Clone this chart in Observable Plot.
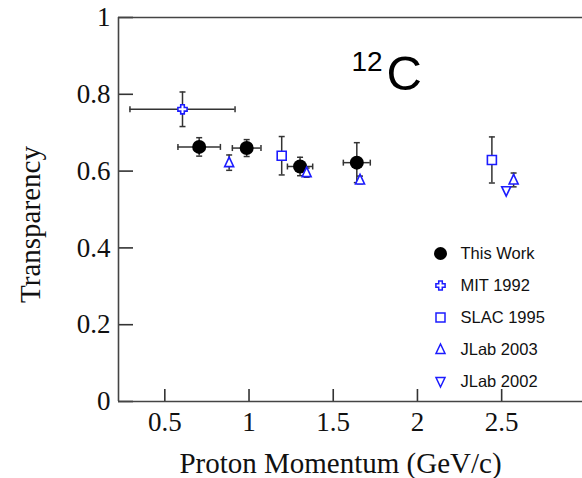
<!DOCTYPE html>
<html><head><meta charset="utf-8">
<script src="https://cdn.jsdelivr.net/npm/d3@7"></script>
<script src="https://cdn.jsdelivr.net/npm/@observablehq/plot@0.6"></script>
<style>body{margin:0;background:#fff}</style>
</head><body><div id="chart"></div>
<script>
// ---- data ----
const xTicks = [0.5, 1, 1.5, 2, 2.5];
const yTicks = [0, 0.2, 0.4, 0.6, 0.8, 1];

const thisWorkP    = [0.704, 0.986, 1.303, 1.640];
const thisWorkT    = [0.663, 0.660, 0.612, 0.622];
const thisWorkPErr = [0.126, 0.085, 0.075, 0.080];
const thisWorkTErr = [0.024, 0.022, 0.024, 0.052];

const mitP = [0.605], mitT = [0.761], mitPErr = [0.312], mitTErr = [0.045];
const slacP = [1.194, 2.442], slacT = [0.640, 0.629], slacTErr = [0.050, 0.060];
const jlab03P = [0.882, 1.342, 1.659, 2.571], jlab03T = [0.622, 0.596, 0.577, 0.577], jlab03TErr = [0.020, 0.012, 0.010, 0.018];
const jlab02P = [2.527], jlab02T = [0.549], jlab02TErr = [0.008];

const legendLabels = ["This Work", "MIT 1992", "SLAC 1995", "JLab 2003", "JLab 2002"];
const nucleusMass = "12", nucleusSymbol = "C";
const xDomain = [0.225, 2.98];
const yDomain = [0, 1];

// ---- layout ----
const W = 582, H = 478, mL = 118, mR = 0, mT = 17, mB = 77;
// inward tick lengths (px) converted to data units
const xTickLen = (yDomain[1] - yDomain[0]) * 12 / (H - mT - mB);
const yTickLen = (xDomain[1] - xDomain[0]) * 15 / (W - mL - mR);

// ---- build rows ----
const rows = (P, T, dP, dT) => P.map((p, i) => ({p, T: T[i], dp: dP ? dP[i] : 0, dT: dT ? dT[i] : 0}));
const thisWork = rows(thisWorkP, thisWorkT, thisWorkPErr, thisWorkTErr);
const mit = rows(mitP, mitT, mitPErr, mitTErr);
const slac = rows(slacP, slacT, null, slacTErr);
const jlab03 = rows(jlab03P, jlab03T, null, jlab03TErr);
const jlab02 = rows(jlab02P, jlab02T, null, jlab02TErr);
const all = [...thisWork, ...mit, ...slac, ...jlab03, ...jlab02];
const withPErr = [...thisWork, ...mit];

// ---- symbols ----
const openCross = {draw(c) { const a = 4.6, b = 1.8;
  c.moveTo(-b,-a); c.lineTo(b,-a); c.lineTo(b,-b); c.lineTo(a,-b); c.lineTo(a,b); c.lineTo(b,b);
  c.lineTo(b,a); c.lineTo(-b,a); c.lineTo(-b,b); c.lineTo(-a,b); c.lineTo(-a,-b); c.lineTo(-b,-b); c.closePath(); }};
const square = {draw(c) { const h = 4.5; c.moveTo(-h,-h); c.lineTo(h,-h); c.lineTo(h,h); c.lineTo(-h,h); c.closePath(); }};
const triUp = {draw(c) { c.moveTo(0,-5.5); c.lineTo(4.5,4); c.lineTo(-4.5,4); c.closePath(); }};
const triDown = {draw(c) { c.moveTo(0,5.5); c.lineTo(4.5,-4); c.lineTo(-4.5,-4); c.closePath(); }};
const hCap = {draw(c) { c.moveTo(-3,0); c.lineTo(3,0); }};
const vCap = {draw(c) { c.moveTo(0,-3); c.lineTo(0,3); }};

const blue = "#1c1cff", errC = "#333", axC = "#444";
const legendSymbols = ["circle", openCross, square, triUp, triDown];

const legendMarks = legendLabels.flatMap((lab, i) => [
  Plot.dot([lab], {frameAnchor: "top-left", dx: 322, dy: 236 + i * 32,
    symbol: legendSymbols[i], r: i === 0 ? 6.5 : 4,
    fill: i === 0 ? "black" : "white", stroke: i === 0 ? "none" : blue, strokeWidth: 1.5}),
  Plot.text([lab], {frameAnchor: "top-left", dx: 342, dy: 236 + i * 32, text: d => d,
    textAnchor: "start", lineAnchor: "middle", fontFamily: "Liberation Sans, Arial, sans-serif",
    fontSize: 16.5, fill: "#111"})
]);

const chart = Plot.plot({
  width: W, height: H,
  marginLeft: mL, marginRight: mR, marginTop: mT, marginBottom: mB,
  style: {fontFamily: "Liberation Serif, Times New Roman, serif", fontSize: "27px", background: "white", overflow: "visible"},
  x: {domain: xDomain},
  y: {domain: yDomain},
  marks: [
    // tick labels
    Plot.axisX(xTicks, {tickSize: 0, tickPadding: 10, fill: "#111", label: null, tickFormat: d => String(d)}),
    Plot.axisY(yTicks, {tickSize: 0, tickPadding: 8, fill: "#111", label: null, tickFormat: d => String(d)}),
    // inward ticks
    Plot.ruleX(xTicks, {x: d => d, y1: yDomain[0], y2: yDomain[0] + xTickLen, stroke: "#333", strokeWidth: 1.6}),
    Plot.ruleY(yTicks, {y: d => d, x1: xDomain[0], x2: xDomain[0] + yTickLen, stroke: "#333", strokeWidth: 1.6}),
    // frame lines
    Plot.ruleX([xDomain[0]], {stroke: axC, strokeWidth: 1.6}),
    Plot.ruleY([yTicks[0], yTicks[yTicks.length - 1]], {stroke: axC, strokeWidth: 1.6}),
    // error bars
    Plot.ruleX(all, {x: "p", y1: d => d.T - d.dT, y2: d => d.T + d.dT, stroke: errC, strokeWidth: 1.5}),
    Plot.ruleY(withPErr, {y: "T", x1: d => d.p - d.dp, x2: d => d.p + d.dp, stroke: errC, strokeWidth: 1.5}),
    Plot.dot(all.filter(d => d.dT > 0.009), {x: "p", y: d => d.T + d.dT, symbol: hCap, stroke: errC, strokeWidth: 1.5}),
    Plot.dot(all.filter(d => d.dT > 0.009), {x: "p", y: d => d.T - d.dT, symbol: hCap, stroke: errC, strokeWidth: 1.5}),
    Plot.dot(withPErr, {x: d => d.p + d.dp, y: "T", symbol: vCap, stroke: errC, strokeWidth: 1.5}),
    Plot.dot(withPErr, {x: d => d.p - d.dp, y: "T", symbol: vCap, stroke: errC, strokeWidth: 1.5}),
    // markers
    Plot.dot(thisWork, {x: "p", y: "T", r: 7, fill: "black"}),
    Plot.dot(mit, {x: "p", y: "T", symbol: openCross, fill: "white", stroke: blue, strokeWidth: 1.6}),
    Plot.dot(slac, {x: "p", y: "T", symbol: square, fill: "white", stroke: blue, strokeWidth: 1.6}),
    Plot.dot(jlab03, {x: "p", y: "T", symbol: triUp, fill: "white", stroke: blue, strokeWidth: 1.6}),
    Plot.dot(jlab02, {x: "p", y: "T", symbol: triDown, fill: "white", stroke: blue, strokeWidth: 1.6}),
    // annotation
    Plot.text([nucleusMass], {frameAnchor: "top-left", dx: 233, dy: 53, text: d => d, textAnchor: "start", lineAnchor: "bottom",
      fontFamily: "Liberation Sans, Arial, sans-serif", fontSize: 28, fill: "black"}),
    Plot.text([nucleusSymbol], {frameAnchor: "top-left", dx: 268, dy: 72, text: d => d, textAnchor: "start", lineAnchor: "bottom",
      fontFamily: "Liberation Sans, Arial, sans-serif", fontSize: 49, fill: "black"}),
    // axis titles
    Plot.text(["Proton Momentum (GeV/c)"], {frameAnchor: "bottom", dx: -10, dy: 71, textAnchor: "middle", lineAnchor: "bottom", text: d => d, fontSize: 29, fill: "#111"}),
    Plot.text(["Transparency"], {frameAnchor: "left", dx: -88, dy: 15, rotate: -90, textAnchor: "middle", lineAnchor: "middle", text: d => d, fontSize: 29, fill: "#111"}),
    ...legendMarks
  ]
});
document.getElementById("chart").appendChild(chart);
</script>
</body></html>
